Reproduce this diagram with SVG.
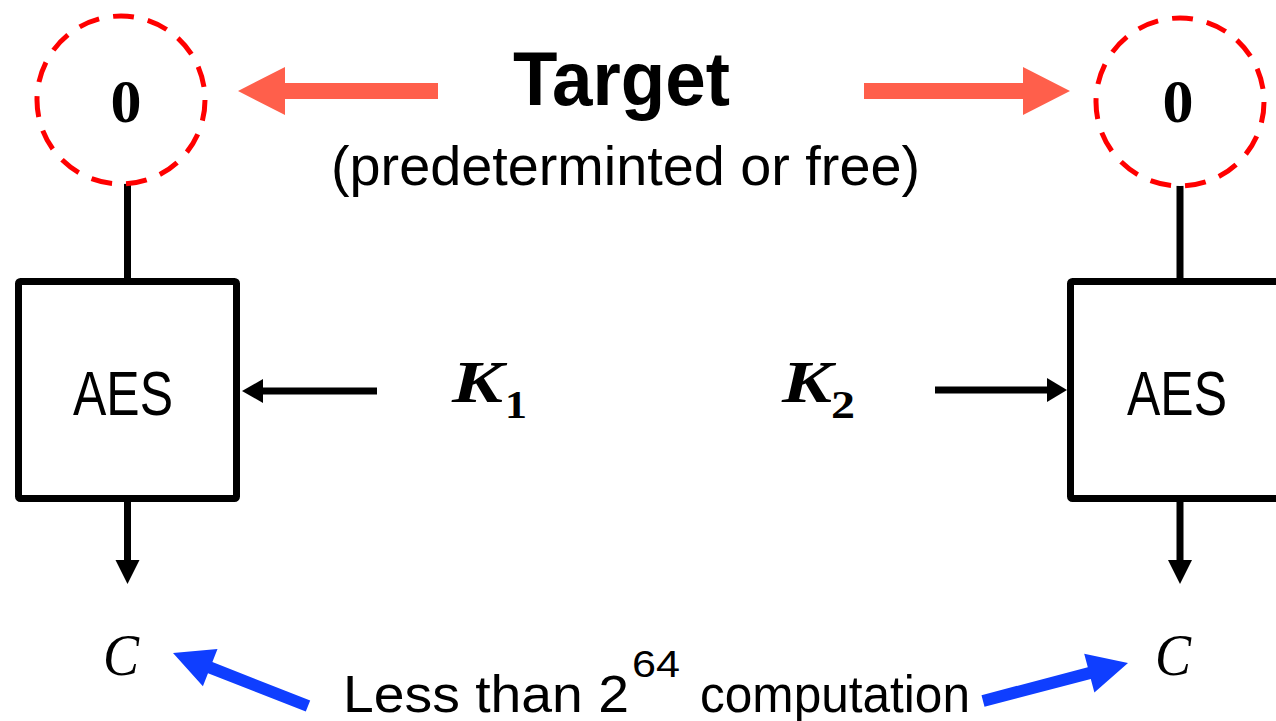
<svg xmlns="http://www.w3.org/2000/svg" width="1276" height="721" viewBox="0 0 1276 721">
<style>
.sans{font-family:"Liberation Sans",Arial,sans-serif;fill:#000}
.serif{font-family:"Liberation Serif","Times New Roman",serif;fill:#000}
.target{fill:#fff;stroke:#ff0000;stroke-width:5;stroke-dasharray:21 14.2}
.box{fill:#fff;stroke:#000;stroke-width:7}
.wire{stroke:#000;stroke-width:7;fill:none}
.head{fill:#000}
.red{fill:#ff5f4b}
.blue{fill:#0f3eff}
</style>
<rect width="1276" height="721" fill="#fff"/>
<g id="connectors">
  <line class="wire" x1="127.5" y1="180" x2="127.5" y2="281"/>
  <line class="wire" x1="1180" y1="180" x2="1180" y2="281"/>
  <line class="wire" x1="127.5" y1="499" x2="127.5" y2="564"/>
  <polygon class="head" points="115.5,560 139.5,560 127.5,584"/>
  <line class="wire" x1="1180" y1="499" x2="1180" y2="564"/>
  <polygon class="head" points="1168,560 1192,560 1180,584"/>
  <line class="wire" x1="377" y1="391" x2="258" y2="391"/>
  <polygon class="head" points="242,391 263,379 263,403"/>
  <line class="wire" x1="935" y1="390" x2="1051" y2="390"/>
  <polygon class="head" points="1067,390 1047,378 1047,402"/>
  <polygon class="red" points="238,91 285,67 285,83 438,83 438,99 285,99 285,115"/>
  <polygon class="red" points="1070,91 1023,67 1023,83 864,83 864,99 1023,99 1023,115"/>
  <polygon class="blue" points="173,653 217.5,649 212.4,662.1 310.2,700.4 305.8,711.6 208,673.2 202.9,686.2"/>
  <polygon class="blue" points="1128,663 1084.2,653.8 1087.8,667.3 981.5,695.2 984.5,706.8 1090.8,678.9 1094.4,692.4"/>
</g>
<g id="target-left">
  <circle class="target" cx="121" cy="100" r="84"/>
  <text class="serif" x="126" y="122" font-size="62" font-weight="bold" text-anchor="middle">0</text>
</g>
<g id="target-right">
  <circle class="target" cx="1180" cy="102" r="84"/>
  <text class="serif" x="1178" y="122" font-size="62" font-weight="bold" text-anchor="middle">0</text>
</g>
<g id="target-label">
  <text class="sans" x="513" y="105" font-size="76" font-weight="bold" textLength="217" lengthAdjust="spacingAndGlyphs">Target</text>
  <text class="sans" x="331" y="185" font-size="56" textLength="589" lengthAdjust="spacingAndGlyphs">(predeterminted or free)</text>
</g>
<g id="aes-left">
  <rect class="box" x="18.5" y="281.5" width="218" height="217" rx="2"/>
  <text class="sans" x="73" y="415" font-size="63" textLength="100" lengthAdjust="spacingAndGlyphs">AES</text>
</g>
<g id="aes-right">
  <rect class="box" x="1070.5" y="281.5" width="218" height="217" rx="2"/>
  <text class="sans" x="1127" y="415" font-size="63" textLength="100" lengthAdjust="spacingAndGlyphs">AES</text>
</g>
<g id="key1">
  <text class="serif" x="452" y="402" font-size="60" font-weight="bold" font-style="italic" textLength="51" lengthAdjust="spacingAndGlyphs">K</text>
  <text class="serif" x="505" y="418" font-size="40" font-weight="bold" textLength="22" lengthAdjust="spacingAndGlyphs">1</text>
</g>
<g id="key2">
  <text class="serif" x="782" y="402" font-size="60" font-weight="bold" font-style="italic" textLength="50" lengthAdjust="spacingAndGlyphs">K</text>
  <text class="serif" x="831" y="418" font-size="40" font-weight="bold" textLength="24" lengthAdjust="spacingAndGlyphs">2</text>
</g>
<g id="c-left">
  <text class="serif" x="103" y="675" font-size="60" font-style="italic" textLength="36" lengthAdjust="spacingAndGlyphs">C</text>
</g>
<g id="c-right">
  <text class="serif" x="1155" y="675" font-size="60" font-style="italic" textLength="36" lengthAdjust="spacingAndGlyphs">C</text>
</g>
<g id="computation-label">
  <text class="sans" x="343" y="712" font-size="52" textLength="286" lengthAdjust="spacingAndGlyphs">Less than 2</text>
  <text class="sans" x="632" y="677" font-size="36" textLength="48" lengthAdjust="spacingAndGlyphs">64</text>
  <text class="sans" x="700" y="712" font-size="52" textLength="270" lengthAdjust="spacingAndGlyphs">computation</text>
</g>
</svg>
